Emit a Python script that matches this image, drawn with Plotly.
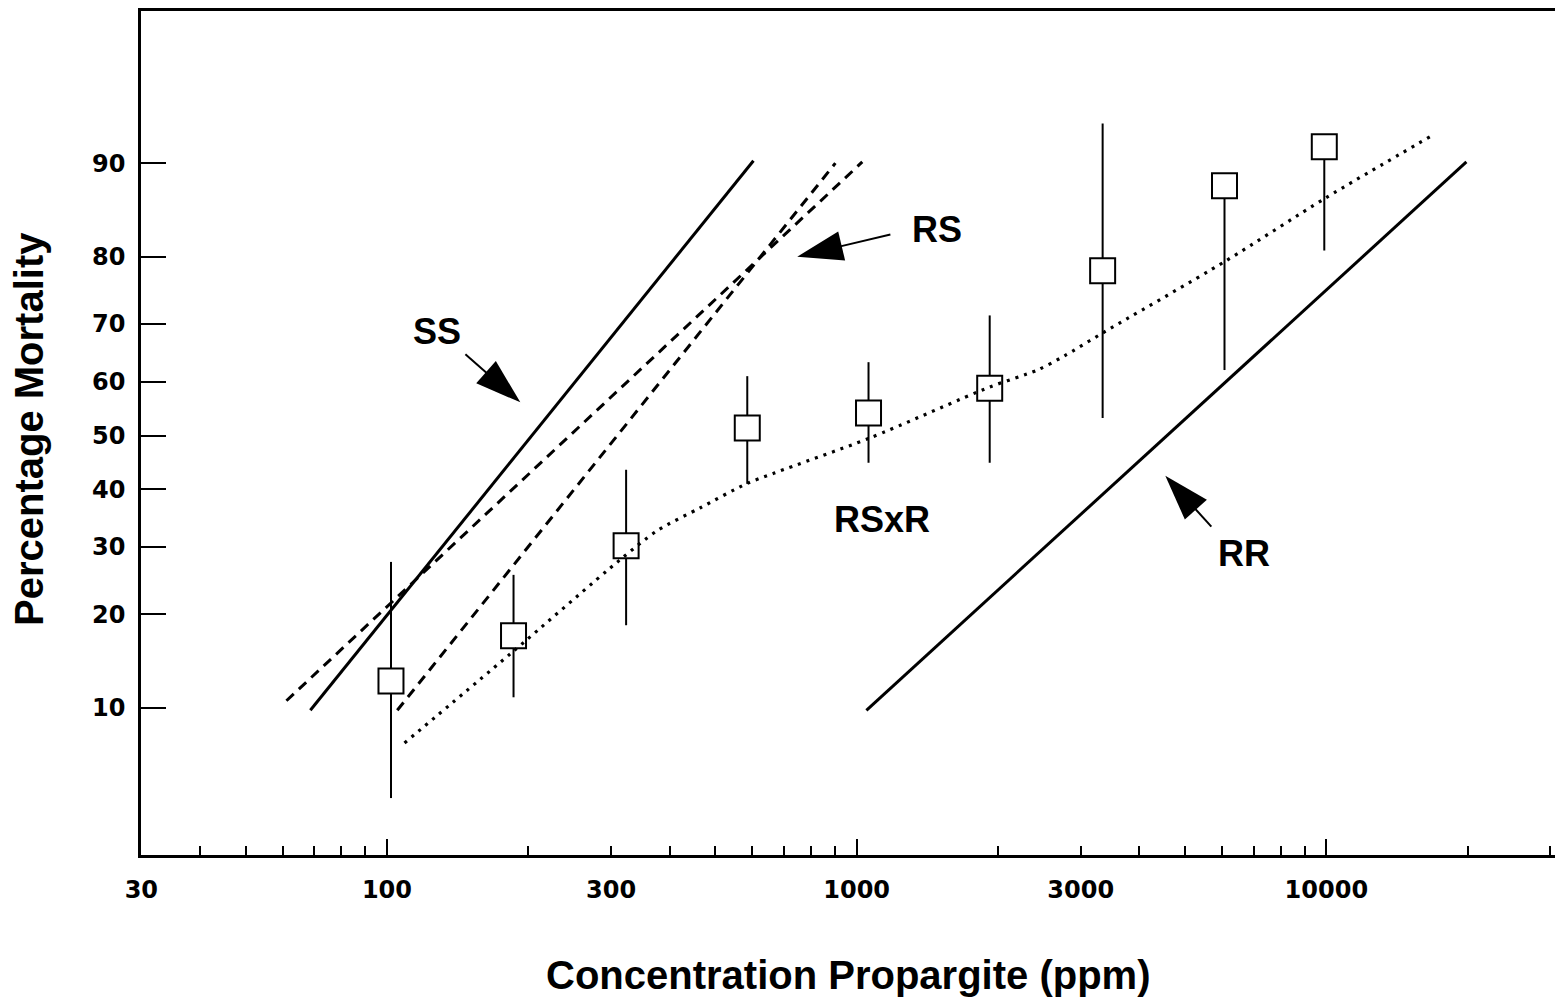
import math
from statistics import NormalDist
import plotly.graph_objects as go

_nd = NormalDist()


def probit(p):
    return _nd.inv_cdf(p / 100.0)


# ---------------- data ----------------
# RSxR observed points: concentration (ppm), % mortality, upper / lower limits
rsxr_conc = [102, 186, 323, 585, 1060, 1920, 3340, 6070, 9900]
rsxr_mort = [12.4, 17.3, 30.2, 51.4, 54.2, 58.8, 78.1, 88.0, 91.3]
rsxr_hi = [27.6, 25.6, 43.6, 61.0, 63.5, 71.4, 92.9, 88.0, 91.3]
rsxr_lo = [4.4, 10.9, 18.6, 41.0, 44.9, 44.9, 53.3, 62.1, 80.8]

# RSxR fitted (dotted) curve
rsxr_fit_x = [109, 183, 312, 376, 465, 582, 668, 1064, 1917, 2425, 2768, 3303, 6095, 9952, 16800]
rsxr_fit_y = [7.4, 15.2, 27.8, 32.7, 36.7, 41.0, 43.0, 49.5, 59.0, 62.1, 64.6, 68.3, 79.4, 86.8, 92.1]

# probit regression lines
ss_x = [68.7, 603]
ss_y = [9.8, 90.2]
rs_a_x = [61.1, 1028]
rs_a_y = [10.6, 90.1]
rs_b_x = [105.2, 901]
rs_b_y = [9.8, 90.0]
rr_x = [1049, 19870]
rr_y = [9.8, 90.1]

# labels and arrows (tail -> head)
label_text = ["SS", "RS", "RSxR", "RR"]
label_x = [128, 1485, 1134, 6690]
label_y = [68.8, 83.4, 34.6, 28.9]
arrow_tail_x = [146.9, 1180, 5691]
arrow_tail_y = [64.9, 82.8, 33.4]
arrow_head_x = [192.3, 747.5, 4541]
arrow_head_y = [56.2, 80.0, 42.5]

# ticks
y_ticks = [10, 20, 30, 40, 50, 60, 70, 80, 90]
x_labelled = [30, 100, 300, 1000, 3000, 10000]
x_minor_all = ([m * 10 for m in range(3, 10)] + [m * 100 for m in range(1, 10)]
               + [m * 1000 for m in range(1, 10)] + [10000, 20000, 30000])
x_decades = [100, 1000, 10000]

# ---------------- figure ----------------
fig = go.Figure()

solid = dict(color="black", width=3)
dashed = dict(color="black", width=3, dash="10px,7px")

fig.add_trace(go.Scatter(x=ss_x, y=[probit(v) for v in ss_y], mode="lines", line=solid))
fig.add_trace(go.Scatter(x=rr_x, y=[probit(v) for v in rr_y], mode="lines", line=solid))
fig.add_trace(go.Scatter(x=rs_a_x, y=[probit(v) for v in rs_a_y], mode="lines", line=dashed))
fig.add_trace(go.Scatter(x=rs_b_x, y=[probit(v) for v in rs_b_y], mode="lines", line=dashed))

zy = [probit(v) for v in rsxr_mort]
err_plus = [probit(h) - z for h, z in zip(rsxr_hi, zy)]
err_minus = [z - probit(l) for l, z in zip(rsxr_lo, zy)]
fig.add_trace(go.Scatter(
    x=rsxr_conc, y=zy, mode="markers",
    marker=dict(symbol="square", size=25, color="white", opacity=1,
                line=dict(color="black", width=2)),
    error_y=dict(type="data", symmetric=False, array=err_plus, arrayminus=err_minus,
                 color="black", thickness=2, width=0),
))

fig.add_trace(go.Scatter(
    x=rsxr_fit_x, y=[probit(v) for v in rsxr_fit_y], mode="lines",
    line=dict(color="black", width=3.2, dash="3px,6px", shape="spline", smoothing=0.8),
))

for tx, ty, hx, hy in zip(arrow_tail_x, arrow_tail_y, arrow_head_x, arrow_head_y):
    fig.add_trace(go.Scatter(
        x=[tx, hx], y=[probit(ty), probit(hy)], mode="lines+markers",
        line=dict(color="black", width=2),
        marker=dict(symbol=["circle", "arrow"], size=[0, 48], color="black",
                    opacity=1, angleref="previous", line=dict(width=0)),
    ))

label_font = dict(family="Liberation Sans", size=36, color="black", weight="bold")
for t, lx, ly in zip(label_text, label_x, label_y):
    fig.add_annotation(x=math.log10(lx), y=probit(ly), xref="x", yref="y", text=t,
                       showarrow=False, font=label_font)

title_font = dict(family="Liberation Sans", size=40, color="black", weight="bold")
fig.add_annotation(x=0.4972, y=-0.1418, xref="paper", yref="paper",
                   text="Concentration Propargite (ppm)", showarrow=False,
                   font=title_font, xanchor="center", yanchor="middle")
fig.add_annotation(x=-0.0788, y=0.5047, xref="paper", yref="paper",
                   text="Percentage Mortality", showarrow=False, textangle=-90,
                   font=title_font, xanchor="center", yanchor="middle")

tick_font = dict(family="DejaVu Sans", size=24, color="black", weight="bold")

x0 = math.log10(29.95)
fig.update_xaxes(
    type="log", range=[x0, x0 + 1422 / 469.7],
    tickmode="array", tickvals=x_minor_all,
    ticktext=[str(v) if v in x_labelled else "" for v in x_minor_all],
    ticks="inside", ticklen=9, tickwidth=2, tickcolor="black",
    showline=True, linewidth=2.5, linecolor="black", mirror=True,
    showgrid=False, zeroline=False, tickfont=tick_font, ticklabelstandoff=11,
    minor=dict(tickmode="array", tickvals=x_decades, ticks="inside", ticklen=16,
               tickwidth=2, tickcolor="black", showgrid=False),
)
fig.update_yaxes(
    range=[-1.974, 1.9977], tickmode="array",
    tickvals=[probit(v) for v in y_ticks], ticktext=[str(v) for v in y_ticks],
    ticks="inside", ticklen=25, tickwidth=2, tickcolor="black",
    showline=True, linewidth=2.5, linecolor="black", mirror=False,
    showgrid=False, zeroline=False, tickfont=tick_font, ticklabelstandoff=8,
)

# the page body adds an 8px offset, so the figure is sized to fit the 1563x1000 window
fig.update_layout(
    width=1555, height=992,
    margin=dict(l=133, r=0, t=1, b=145),
    paper_bgcolor="white", plot_bgcolor="white",
    showlegend=False, hovermode=False,
)

fig.write_html("out.html")
